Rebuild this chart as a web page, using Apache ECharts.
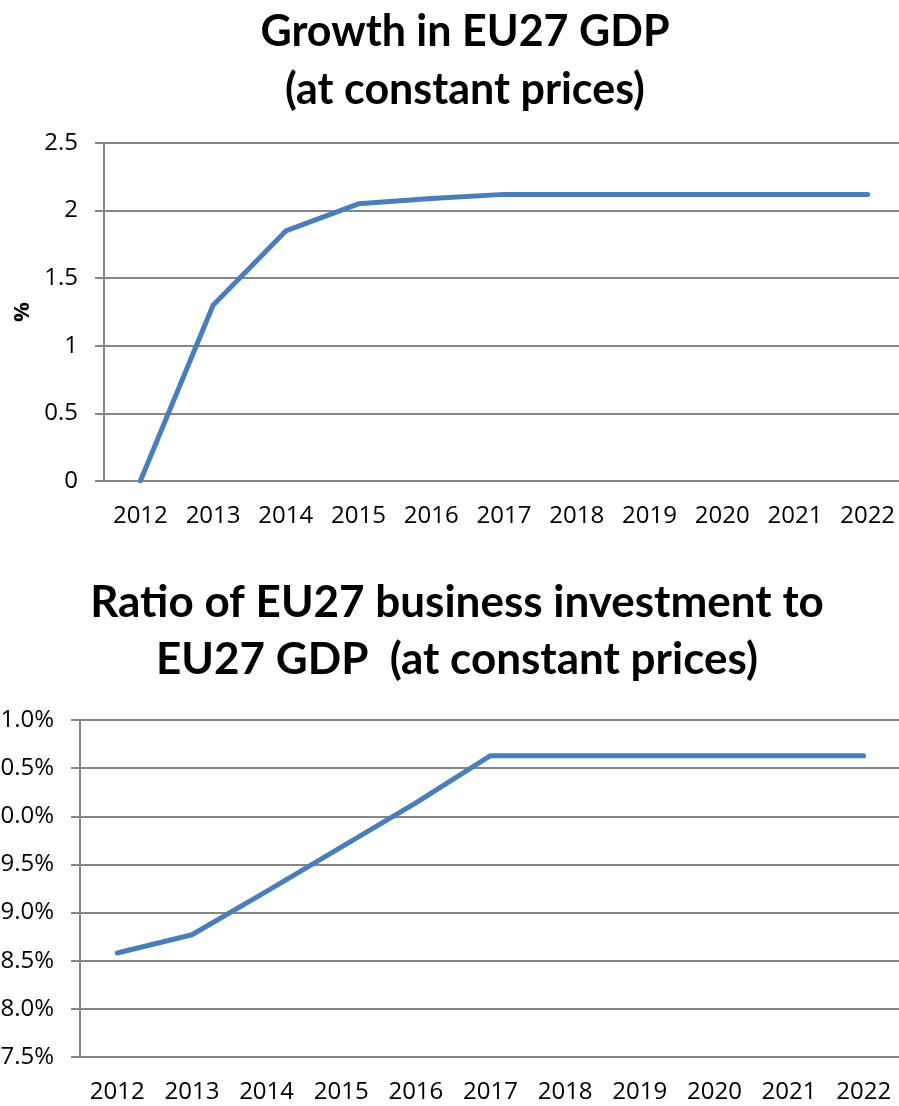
<!DOCTYPE html>
<html>
<head>
<meta charset="utf-8">
<script src="https://cdn.jsdelivr.net/npm/echarts@6/dist/echarts.min.js"></script>
<style>
  html, body { margin: 0; padding: 0; background: #fff; }
  #chart { width: 899px; height: 1106px; }
</style>
</head>
<body>
<div id="chart"></div>
<script>
const years = ['2012', '2013', '2014', '2015', '2016', '2017', '2018', '2019', '2020', '2021', '2022'];
// growth in EU27 GDP, %
const gdpGrowth = [0, 1.3, 1.85, 2.05, 2.09, 2.12, 2.12, 2.12, 2.12, 2.12, 2.12];
// business investment / GDP, %
const investRatio = [8.58, 8.77, 9.22, 9.68, 10.14, 10.63, 10.63, 10.63, 10.63, 10.63, 10.63];

const gray = '#868686';
const blue = '#4a7ebb';
const font = 'Open Sans';

function xAxis(gridIndex) {
    return {
        type: 'category',
        gridIndex: gridIndex,
        data: years,
        boundaryGap: true,
        axisLine: { lineStyle: { color: gray, width: 2 } },
        axisTick: { length: 8, lineStyle: { color: gray, width: 2 } },
        axisLabel: { color: '#000', fontFamily: font, fontSize: 24, margin: 23 }
    };
}

const chart = echarts.init(document.getElementById('chart'));

chart.setOption({
    animation: false,
    title: [
        {
            text: 'Growth in EU27 GDP\n(at constant prices)',
            left: 460, top: -2, textAlign: 'center',
            textStyle: { fontFamily: 'Lato', fontWeight: 'bold', fontSize: 43, lineHeight: 58, color: '#000' }
        },
        {
            text: 'Ratio of EU27 business investment to\nEU27 GDP  (at constant prices)',
            left: 452, top: 569, textAlign: 'center',
            textStyle: { fontFamily: 'Lato', fontWeight: 'bold', fontSize: 44, lineHeight: 57, color: '#000' }
        }
    ],
    grid: [
        { left: 104, right: -5, top: 143, height: 338, outerBoundsMode: 'none' },
        { left: 80, right: -2, top: 720, height: 337, outerBoundsMode: 'none' }
    ],
    xAxis: [xAxis(0), xAxis(1)],
    yAxis: [
        {
            type: 'value', gridIndex: 0,
            min: 0, max: 2.5, interval: 0.5,
            name: '%', nameLocation: 'middle', nameGap: 66, nameRotate: 90,
            nameTextStyle: { fontFamily: font, fontWeight: 'bold', fontSize: 22, color: '#000' },
            axisLine: { show: true, lineStyle: { color: gray, width: 2 } },
            axisTick: { show: true, length: 9, lineStyle: { color: gray, width: 2 } },
            splitLine: { lineStyle: { color: gray, width: 2 } },
            axisLabel: { color: '#000', fontFamily: font, fontSize: 24, margin: 26 }
        },
        {
            type: 'value', gridIndex: 1,
            min: 7.5, max: 11, interval: 0.5,
            axisLine: { show: true, lineStyle: { color: gray, width: 2 } },
            axisTick: { show: true, length: 9, lineStyle: { color: gray, width: 2 } },
            splitLine: { lineStyle: { color: gray, width: 2 } },
            axisLabel: {
                color: '#000', fontFamily: font, fontSize: 24, margin: 26,
                formatter: v => v.toFixed(1) + '%'
            }
        }
    ],
    series: [
        {
            type: 'line', xAxisIndex: 0, yAxisIndex: 0,
            data: gdpGrowth, showSymbol: false,
            lineStyle: { color: blue, width: 5, cap: 'round', join: 'round' }
        },
        {
            type: 'line', xAxisIndex: 1, yAxisIndex: 1,
            data: investRatio, showSymbol: false,
            lineStyle: { color: blue, width: 5, cap: 'round', join: 'round' }
        }
    ]
});
</script>
</body>
</html>
